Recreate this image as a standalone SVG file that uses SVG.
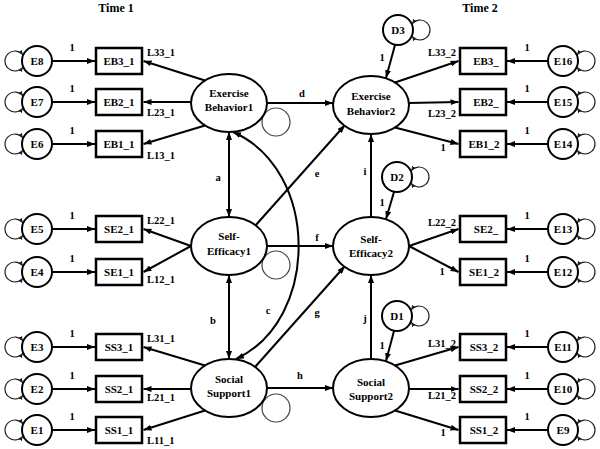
<svg xmlns="http://www.w3.org/2000/svg" width="600" height="449" viewBox="0 0 600 449">
<defs>
<marker id="ah" viewBox="0 0 8 6" refX="8" refY="3" markerWidth="8" markerHeight="6" orient="auto-start-reverse" markerUnits="userSpaceOnUse"><path d="M0,0 L8,3 L0,6 z" fill="#000"/></marker>
<marker id="sh" viewBox="0 0 6 5" refX="6" refY="2.5" markerWidth="5" markerHeight="4.5" orient="auto-start-reverse" markerUnits="userSpaceOnUse"><path d="M0,0 L6,2.5 L0,5 z" fill="#222"/></marker>
</defs>
<style>
text{font-family:"Liberation Serif","Times New Roman",serif;font-weight:bold;fill:#000}
.t{font-size:11px;text-anchor:middle}
.l{font-size:10.5px}
.m{font-size:10.5px;text-anchor:middle}
.h{font-size:12px;text-anchor:middle}
.box{fill:#fff;stroke:#000;stroke-width:2.5}
.cir{fill:#fff;stroke:#000;stroke-width:2}
.ell{fill:#fff;stroke:#000;stroke-width:2}
.ln{stroke:#000;stroke-width:2;fill:none;marker-end:url(#ah)}
.dl{stroke:#000;stroke-width:2;fill:none;marker-end:url(#ah);marker-start:url(#ah)}
.lp{stroke:#222;stroke-width:1.2;fill:none;marker-end:url(#sh);marker-start:url(#sh)}
.rl{stroke:#444;stroke-width:1.2;fill:none}
</style>
<rect width="600" height="449" fill="#fff"/>
<text class="h" x="116" y="12">Time 1</text>
<text class="h" x="480" y="12">Time 2</text>

<g id="connectors">
<!-- error to indicator, left -->
<line class="ln" x1="52" y1="61" x2="95" y2="61"/>
<line class="ln" x1="52" y1="102" x2="95" y2="102"/>
<line class="ln" x1="52" y1="144" x2="95" y2="144"/>
<line class="ln" x1="52" y1="229" x2="95" y2="229"/>
<line class="ln" x1="52" y1="272" x2="95" y2="272"/>
<line class="ln" x1="52" y1="347" x2="95" y2="347"/>
<line class="ln" x1="52" y1="389" x2="95" y2="389"/>
<line class="ln" x1="52" y1="430" x2="95" y2="430"/>
<!-- error to indicator, right -->
<line class="ln" x1="548" y1="61" x2="507" y2="61"/>
<line class="ln" x1="548" y1="102" x2="507" y2="102"/>
<line class="ln" x1="548" y1="144" x2="507" y2="144"/>
<line class="ln" x1="548" y1="229" x2="507" y2="229"/>
<line class="ln" x1="548" y1="272" x2="507" y2="272"/>
<line class="ln" x1="548" y1="347" x2="507" y2="347"/>
<line class="ln" x1="548" y1="389" x2="507" y2="389"/>
<line class="ln" x1="548" y1="430" x2="507" y2="430"/>
<!-- loadings left -->
<line class="ln" x1="205" y1="80.5" x2="143.5" y2="61"/>
<line class="ln" x1="191" y1="102" x2="143.5" y2="102"/>
<line class="ln" x1="205" y1="125.5" x2="143.5" y2="144"/>
<line class="ln" x1="191" y1="246" x2="143.5" y2="229"/>
<line class="ln" x1="191" y1="246" x2="143.5" y2="272"/>
<line class="ln" x1="205" y1="365.5" x2="143.5" y2="347"/>
<line class="ln" x1="191" y1="389" x2="143.5" y2="389"/>
<line class="ln" x1="205" y1="410.5" x2="143.5" y2="430"/>
<!-- loadings right -->
<line class="ln" x1="395" y1="82.5" x2="458.5" y2="61"/>
<line class="ln" x1="409" y1="103" x2="458.5" y2="102"/>
<line class="ln" x1="395" y1="127.5" x2="458.5" y2="144"/>
<line class="ln" x1="409" y1="246" x2="458.5" y2="229"/>
<line class="ln" x1="409" y1="246" x2="458.5" y2="272"/>
<line class="ln" x1="395" y1="365.5" x2="458.5" y2="347"/>
<line class="ln" x1="409" y1="389" x2="458.5" y2="389"/>
<line class="ln" x1="395" y1="410.5" x2="458.5" y2="430"/>
<!-- structural paths -->
<line class="ln" x1="267" y1="103" x2="333" y2="103"/>
<line class="ln" x1="255" y1="226" x2="345" y2="125"/>
<line class="ln" x1="267" y1="246" x2="333" y2="246"/>
<line class="ln" x1="255" y1="367" x2="345" y2="266"/>
<line class="ln" x1="267" y1="388" x2="333" y2="388"/>
<line class="ln" x1="371" y1="217" x2="371" y2="134"/>
<line class="ln" x1="371" y1="359" x2="371" y2="275"/>
<!-- covariances -->
<line class="dl" x1="229" y1="132" x2="229" y2="217"/>
<line class="dl" x1="229" y1="275" x2="229" y2="359"/>
<path class="dl" d="M233,132 C320,170 320,320 236,359"/>
<!-- disturbances -->
<line class="ln" x1="395" y1="45" x2="386" y2="78"/>
<line class="ln" x1="394" y1="192" x2="386" y2="219"/>
<line class="ln" x1="394" y1="331" x2="386" y2="361"/>
<!-- variance loops left errors -->
<path class="lp" d="M23,55 A10 10 0 1 0 23,67"/>
<path class="lp" d="M23,96 A10 10 0 1 0 23,108"/>
<path class="lp" d="M23,138 A10 10 0 1 0 23,150"/>
<path class="lp" d="M23,223 A10 10 0 1 0 23,235"/>
<path class="lp" d="M23,266 A10 10 0 1 0 23,278"/>
<path class="lp" d="M23,341 A10 10 0 1 0 23,353"/>
<path class="lp" d="M23,383 A10 10 0 1 0 23,395"/>
<path class="lp" d="M23,424 A10 10 0 1 0 23,436"/>
<!-- variance loops right errors -->
<path class="lp" d="M577,55 A10 10 0 1 1 577,67"/>
<path class="lp" d="M577,96 A10 10 0 1 1 577,108"/>
<path class="lp" d="M577,138 A10 10 0 1 1 577,150"/>
<path class="lp" d="M577,223 A10 10 0 1 1 577,235"/>
<path class="lp" d="M577,266 A10 10 0 1 1 577,278"/>
<path class="lp" d="M577,341 A10 10 0 1 1 577,353"/>
<path class="lp" d="M577,383 A10 10 0 1 1 577,395"/>
<path class="lp" d="M577,424 A10 10 0 1 1 577,436"/>
<!-- variance loops disturbances -->
<path class="lp" d="M412,24 A10 10 0 1 1 412,36"/>
<path class="lp" d="M411,171 A10 10 0 1 1 411,183"/>
<path class="lp" d="M411,310 A10 10 0 1 1 411,322"/>
<!-- latent variance loops -->
<circle class="rl" cx="276" cy="122" r="14"/>
<circle class="rl" cx="276" cy="265" r="14"/>
<circle class="rl" cx="276" cy="408" r="14"/>
</g>

<g id="E8"><circle class="cir" cx="37" cy="61" r="15"/><text class="t" x="37" y="65">E8</text></g>
<g id="E7"><circle class="cir" cx="37" cy="102" r="15"/><text class="t" x="37" y="106">E7</text></g>
<g id="E6"><circle class="cir" cx="37" cy="144" r="15"/><text class="t" x="37" y="148">E6</text></g>
<g id="E5"><circle class="cir" cx="37" cy="229" r="15"/><text class="t" x="37" y="233">E5</text></g>
<g id="E4"><circle class="cir" cx="37" cy="272" r="15"/><text class="t" x="37" y="276">E4</text></g>
<g id="E3"><circle class="cir" cx="37" cy="347" r="15"/><text class="t" x="37" y="351">E3</text></g>
<g id="E2"><circle class="cir" cx="37" cy="389" r="15"/><text class="t" x="37" y="393">E2</text></g>
<g id="E1"><circle class="cir" cx="37" cy="430" r="15"/><text class="t" x="37" y="434">E1</text></g>

<g id="E16"><circle class="cir" cx="563" cy="61" r="15"/><text class="t" x="563" y="65">E16</text></g>
<g id="E15"><circle class="cir" cx="563" cy="102" r="15"/><text class="t" x="563" y="106">E15</text></g>
<g id="E14"><circle class="cir" cx="563" cy="144" r="15"/><text class="t" x="563" y="148">E14</text></g>
<g id="E13"><circle class="cir" cx="563" cy="229" r="15"/><text class="t" x="563" y="233">E13</text></g>
<g id="E12"><circle class="cir" cx="563" cy="272" r="15"/><text class="t" x="563" y="276">E12</text></g>
<g id="E11"><circle class="cir" cx="563" cy="347" r="15"/><text class="t" x="563" y="351">E11</text></g>
<g id="E10"><circle class="cir" cx="563" cy="389" r="15"/><text class="t" x="563" y="393">E10</text></g>
<g id="E9"><circle class="cir" cx="563" cy="430" r="15"/><text class="t" x="563" y="434">E9</text></g>

<g id="D3"><circle class="cir" cx="398" cy="30" r="15"/><text class="t" x="398" y="34">D3</text></g>
<g id="D2"><circle class="cir" cx="397" cy="177" r="15"/><text class="t" x="397" y="181">D2</text></g>
<g id="D1"><circle class="cir" cx="397" cy="316" r="15"/><text class="t" x="397" y="320">D1</text></g>

<g id="EB3_1"><rect class="box" x="96" y="48" width="46" height="26"/><text class="t" x="119" y="65">EB3_1</text></g>
<g id="EB2_1"><rect class="box" x="96" y="89" width="46" height="26"/><text class="t" x="119" y="106">EB2_1</text></g>
<g id="EB1_1"><rect class="box" x="96" y="131" width="46" height="26"/><text class="t" x="119" y="148">EB1_1</text></g>
<g id="SE2_1"><rect class="box" x="96" y="216" width="46" height="26"/><text class="t" x="119" y="233">SE2_1</text></g>
<g id="SE1_1"><rect class="box" x="96" y="259" width="46" height="26"/><text class="t" x="119" y="276">SE1_1</text></g>
<g id="SS3_1"><rect class="box" x="96" y="334" width="46" height="26"/><text class="t" x="119" y="351">SS3_1</text></g>
<g id="SS2_1"><rect class="box" x="96" y="376" width="46" height="26"/><text class="t" x="119" y="393">SS2_1</text></g>
<g id="SS1_1"><rect class="box" x="96" y="417" width="46" height="26"/><text class="t" x="119" y="434">SS1_1</text></g>

<g id="EB3_2"><rect class="box" x="460" y="48" width="46" height="26"/><text class="t" x="486" y="65">EB3_</text></g>
<g id="EB2_2"><rect class="box" x="460" y="89" width="46" height="26"/><text class="t" x="486" y="106">EB2_</text></g>
<g id="EB1_2"><rect class="box" x="460" y="131" width="46" height="26"/><text class="t" x="484" y="148">EB1_2</text></g>
<g id="SE2_2"><rect class="box" x="460" y="216" width="46" height="26"/><text class="t" x="486" y="233">SE2_</text></g>
<g id="SE1_2"><rect class="box" x="460" y="259" width="46" height="26"/><text class="t" x="484" y="276">SE1_2</text></g>
<g id="SS3_2"><rect class="box" x="460" y="334" width="46" height="26"/><text class="t" x="484" y="351">SS3_2</text></g>
<g id="SS2_2"><rect class="box" x="460" y="376" width="46" height="26"/><text class="t" x="484" y="393">SS2_2</text></g>
<g id="SS1_2"><rect class="box" x="460" y="417" width="46" height="26"/><text class="t" x="484" y="434">SS1_2</text></g>

<g id="ExerciseBehavior1"><ellipse class="ell" cx="229" cy="103" rx="38" ry="29"/><text class="t" x="229" y="97">Exercise</text><text class="t" x="229" y="111">Behavior1</text></g>
<g id="SelfEfficacy1"><ellipse class="ell" cx="229" cy="246" rx="38" ry="29"/><text class="t" x="229" y="240">Self-</text><text class="t" x="229" y="255">Efficacy1</text></g>
<g id="SocialSupport1"><ellipse class="ell" cx="229" cy="388" rx="38" ry="29"/><text class="t" x="229" y="383">Social</text><text class="t" x="229" y="397">Support1</text></g>
<g id="ExerciseBehavior2"><ellipse class="ell" cx="371" cy="105" rx="38" ry="29"/><text class="t" x="371" y="100">Exercise</text><text class="t" x="371" y="115">Behavior2</text></g>
<g id="SelfEfficacy2"><ellipse class="ell" cx="371" cy="246" rx="38" ry="29"/><text class="t" x="371" y="243">Self-</text><text class="t" x="371" y="257">Efficacy2</text></g>
<g id="SocialSupport2"><ellipse class="ell" cx="371" cy="388" rx="38" ry="29"/><text class="t" x="371" y="386">Social</text><text class="t" x="371" y="400">Support2</text></g>

<g id="labels">
<text class="m" x="72" y="51">1</text><text class="m" x="72" y="92">1</text><text class="m" x="72" y="134">1</text>
<text class="m" x="72" y="219">1</text><text class="m" x="72" y="262">1</text>
<text class="m" x="72" y="337">1</text><text class="m" x="72" y="379">1</text><text class="m" x="72" y="420">1</text>
<text class="m" x="527" y="51">1</text><text class="m" x="527" y="92">1</text><text class="m" x="527" y="134">1</text>
<text class="m" x="527" y="219">1</text><text class="m" x="527" y="262">1</text>
<text class="m" x="527" y="337">1</text><text class="m" x="527" y="379">1</text><text class="m" x="527" y="420">1</text>
<text class="l" x="147" y="56">L33_1</text>
<text class="l" x="147" y="116">L23_1</text>
<text class="l" x="147" y="159">L13_1</text>
<text class="l" x="147" y="224">L22_1</text>
<text class="l" x="147" y="283">L12_1</text>
<text class="l" x="147" y="342">L31_1</text>
<text class="l" x="147" y="401">L21_1</text>
<text class="l" x="147" y="444">L11_1</text>
<text class="l" x="428" y="56">L33_2</text>
<text class="l" x="428" y="117">L23_2</text>
<text class="m" x="443" y="151">1</text>
<text class="l" x="428" y="226">L22_2</text>
<text class="m" x="442" y="275">1</text>
<text class="l" x="428" y="347">L31_2</text>
<text class="l" x="428" y="399">L21_2</text>
<text class="m" x="443" y="436">1</text>
<text class="m" x="382" y="61">1</text>
<text class="m" x="382" y="206">1</text>
<text class="m" x="382" y="349">1</text>
<text class="m" x="302" y="97">d</text>
<text class="m" x="317" y="177">e</text>
<text class="m" x="317" y="241">f</text>
<text class="m" x="317" y="316">g</text>
<text class="m" x="300" y="379">h</text>
<text class="m" x="365" y="175">i</text>
<text class="m" x="365" y="322">j</text>
<text class="m" x="218" y="181">a</text>
<text class="m" x="213" y="324">b</text>
<text class="m" x="268" y="314">c</text>
</g>
</svg>
